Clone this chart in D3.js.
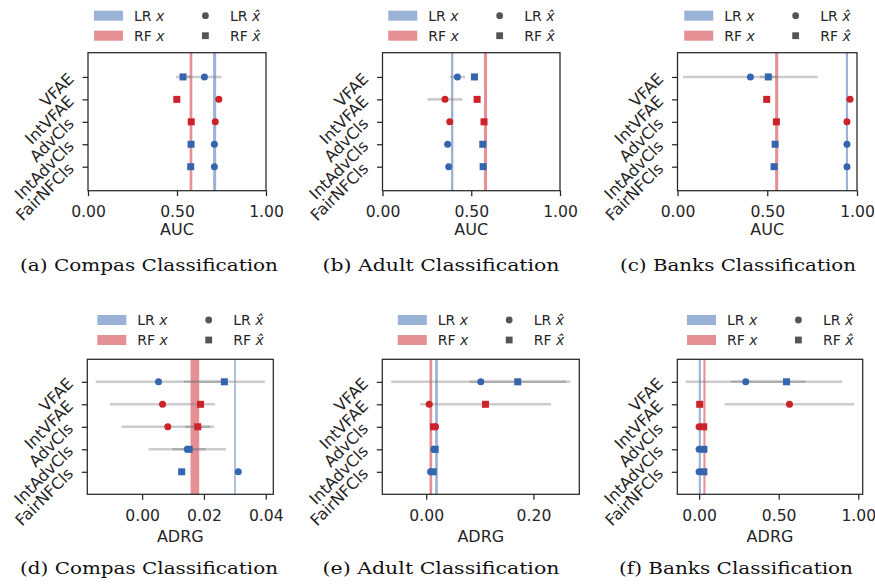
<!DOCTYPE html>
<html>
<head>
<meta charset="utf-8">
<script src="https://cdn.jsdelivr.net/npm/d3@7"></script>
<style>
  body { margin: 0; background: #fff; }
  svg { display: block; }
</style>
</head>
<body>
<svg id="fig" width="875" height="588"></svg>
<script>
// ---- data ----
const methods = ['VFAE', 'IntVFAE', 'AdvCls', 'IntAdvCls', 'FairNFCls'];

// (a) Compas AUC
const compasAucLR = [0.654, 0.735, 0.715, 0.71, 0.71];
const compasAucLRErr = [0.097, 0, 0, 0, 0];
const compasAucRF = [0.534, 0.499, 0.58, 0.579, 0.577];
const compasAucRFErr = [0.04, 0, 0, 0, 0];
const compasAucLRx = [0.703, 0.72];
const compasAucRFx = [0.571, 0.586];

// (b) Adult AUC
const adultAucLR = [0.422, 0.352, 0.379, 0.367, 0.373];
const adultAucLRErr = [0.044, 0.098, 0, 0, 0];
const adultAucRF = [0.518, 0.533, 0.572, 0.565, 0.567];
const adultAucRFErr = [0, 0, 0, 0, 0];
const adultAucLRx = [0.386, 0.399];
const adultAucRFx = [0.572, 0.589];

// (c) Banks AUC
const banksAucLR = [0.406, 0.961, 0.944, 0.944, 0.944];
const banksAucLRErr = [0.375, 0, 0, 0, 0];
const banksAucRF = [0.506, 0.497, 0.551, 0.544, 0.538];
const banksAucRFErr = [0.047, 0, 0, 0, 0];
const banksAucLRx = [0.938, 0.95];
const banksAucRFx = [0.544, 0.561];

// (d) Compas ADRG
const compasAdrgLR = [0.0053, 0.0066, 0.0083, 0.0146, 0.0311];
const compasAdrgLRErr = [0.0203, 0.017, 0.015, 0.0125, 0];
const compasAdrgRF = [0.0266, 0.0189, 0.018, 0.0152, 0.0128];
const compasAdrgRFErr = [0.0131, 0.001, 0.004, 0.0054, 0];
const compasAdrgLRx = [0.0298, 0.0303];
const compasAdrgRFx = [0.01566, 0.01847];

// (e) Adult ADRG
const adultAdrgLR = [0.1018, 0.0056, 0.0174, 0.0143, 0.008];
const adultAdrgLRErr = [0.167, 0.005, 0, 0, 0];
const adultAdrgRF = [0.1707, 0.1105, 0.0137, 0.0168, 0.013];
const adultAdrgRFErr = [0.09, 0.1225, 0, 0, 0];
const adultAdrgLRx = [0.0167, 0.0217];
const adultAdrgRFx = [0.0061, 0.0112];

// (f) Banks ADRG
const banksAdrgLR = [0.293, 0.568, 0.0, 0.0, 0.0];
const banksAdrgLRErr = [0.377, 0.407, 0, 0, 0];
const banksAdrgRF = [0.549, 0.004, 0.029, 0.03, 0.03];
const banksAdrgRFErr = [0.35, 0, 0, 0, 0];
const banksAdrgLRx = [-0.002, 0.011];
const banksAdrgRFx = [0.027, 0.04];

const aucTicks = [0, 0.5, 1];
const compasAdrgTicks = [0, 0.02, 0.04];
const adultAdrgTicks = [0, 0.2];
const banksAdrgTicks = [0, 0.5, 1];

const captions = ['(a) Compas Classification', '(b) Adult Classification', '(c) Banks Classification',
                  '(d) Compas Classification', '(e) Adult Classification', '(f) Banks Classification'];

// ---- style ----
const blue = '#3565ae', red = '#cc2229', ink = '#262626';
const rowColor = [blue, red, red, blue, blue];
const font = 'DejaVu Sans';

const panels = [
  { lr: compasAucLR, lrErr: compasAucLRErr, rf: compasAucRF, rfErr: compasAucRFErr, lrX: compasAucLRx, rfX: compasAucRFx,
    ticks: aucTicks, domain: [0, 1], label: 'AUC', row: 0, left: 88, right: 266, capX: 149, capW: 258 },
  { lr: adultAucLR, lrErr: adultAucLRErr, rf: adultAucRF, rfErr: adultAucRFErr, lrX: adultAucLRx, rfX: adultAucRFx,
    ticks: aucTicks, domain: [0, 1], label: 'AUC', row: 0, left: 382.5, right: 560, capX: 441, capW: 237 },
  { lr: banksAucLR, lrErr: banksAucLRErr, rf: banksAucRF, rfErr: banksAucRFErr, lrX: banksAucLRx, rfX: banksAucRFx,
    ticks: aucTicks, domain: [0, 1], label: 'AUC', row: 0, left: 677.5, right: 857, capX: 738, capW: 236 },
  { lr: compasAdrgLR, lrErr: compasAdrgLRErr, rf: compasAdrgRF, rfErr: compasAdrgRFErr, lrX: compasAdrgLRx, rfX: compasAdrgRFx,
    ticks: compasAdrgTicks, domain: null, label: 'ADRG', row: 1, left: 87.3, right: 273.3, capX: 149, capW: 258 },
  { lr: adultAdrgLR, lrErr: adultAdrgLRErr, rf: adultAdrgRF, rfErr: adultAdrgRFErr, lrX: adultAdrgLRx, rfX: adultAdrgRFx,
    ticks: adultAdrgTicks, domain: null, label: 'ADRG', row: 1, left: 382.3, right: 579.3, capX: 441, capW: 237 },
  { lr: banksAdrgLR, lrErr: banksAdrgLRErr, rf: banksAdrgRF, rfErr: banksAdrgRFErr, lrX: banksAdrgLRx, rfX: banksAdrgRFx,
    ticks: banksAdrgTicks, domain: null, label: 'ADRG', row: 1, left: 677.3, right: 862.7, capX: 736, capW: 234 }
];
panels.forEach((p, k) => p.caption = captions[k]);

const rows = [
  { top: 52.7, bottom: 190.7, yDomain: [-1.08, 5.07], legendY: 37, titleDy: 44.5, capY: 271 },
  { top: 359.3, bottom: 494.3, yDomain: [-1, 5], legendY: 39.3, titleDy: 48, capY: 574 }
];

// matplotlib-like auto limits: data extent + 5% margin
function autoDomain(p) {
  const vals = [...p.lrX, ...p.rfX];
  p.lr.forEach((v, i) => vals.push(v - p.lrErr[i], v + p.lrErr[i]));
  p.rf.forEach((v, i) => vals.push(v - p.rfErr[i], v + p.rfErr[i]));
  const [lo, hi] = d3.extent(vals);
  const m = (hi - lo) * 0.05;
  return [lo - m, hi + m];
}

const svg = d3.select('#fig');

panels.forEach(p => {
  const r = rows[p.row];
  const x = d3.scaleLinear().domain(p.domain || autoDomain(p)).range([p.left, p.right]);
  const y = d3.scaleLinear().domain(r.yDomain).range([r.top, r.bottom]);
  const g = svg.append('g');

  // baseline (x) bands
  [[p.lrX, blue], [p.rfX, red]].forEach(([b, c]) => {
    const w = Math.max(x(b[1]) - x(b[0]), 1.6);
    g.append('rect')
      .attr('x', (x(b[0]) + x(b[1])) / 2 - w / 2)
      .attr('y', r.top)
      .attr('width', w)
      .attr('height', r.bottom - r.top)
      .attr('fill', c)
      .attr('fill-opacity', 0.5);
  });

  // error bars
  const bars = [];
  p.lr.forEach((v, i) => { if (p.lrErr[i] > 0) bars.push({ lo: v - p.lrErr[i], hi: v + p.lrErr[i], i }); });
  p.rf.forEach((v, i) => { if (p.rfErr[i] > 0) bars.push({ lo: v - p.rfErr[i], hi: v + p.rfErr[i], i }); });
  g.selectAll('line.err').data(bars).enter().append('line')
    .attr('class', 'err')
    .attr('x1', d => x(d.lo)).attr('x2', d => x(d.hi))
    .attr('y1', d => y(d.i)).attr('y2', d => y(d.i))
    .attr('stroke', '#808080').attr('stroke-opacity', 0.4).attr('stroke-width', 2.6);

  // markers: LR x-hat circles, RF x-hat squares
  g.selectAll('circle.lr').data(p.lr).enter().append('circle')
    .attr('class', 'lr')
    .attr('cx', d => x(d)).attr('cy', (d, i) => y(i)).attr('r', 3.5)
    .attr('fill', (d, i) => rowColor[i]);
  const s = 7;
  g.selectAll('rect.rf').data(p.rf).enter().append('rect')
    .attr('class', 'rf')
    .attr('x', d => x(d) - s / 2).attr('y', (d, i) => y(i) - s / 2)
    .attr('width', s).attr('height', s)
    .attr('fill', (d, i) => rowColor[i]);

  // frame
  g.append('rect')
    .attr('x', p.left).attr('y', r.top)
    .attr('width', p.right - p.left).attr('height', r.bottom - r.top)
    .attr('fill', 'none').attr('stroke', ink).attr('stroke-width', 1.25);

  // x axis
  const gx = g.append('g')
    .attr('transform', `translate(0,${r.bottom})`)
    .call(d3.axisBottom(x).tickValues(p.ticks).tickFormat(d3.format('.2f')).tickSize(5.5).tickPadding(10));
  gx.select('.domain').remove();
  gx.attr('font-family', font).attr('font-size', 15.6);
  gx.selectAll('line').attr('stroke', ink).attr('stroke-width', 1.25);
  gx.selectAll('text').attr('fill', ink);

  // y axis with rotated method names
  const gy = g.append('g')
    .attr('transform', `translate(${p.left},0)`)
    .call(d3.axisLeft(y).tickValues(d3.range(methods.length)).tickFormat(i => methods[i]).tickSize(5.5));
  gy.select('.domain').remove();
  gy.attr('font-family', font).attr('font-size', 16);
  gy.selectAll('line').attr('stroke', ink).attr('stroke-width', 1.25);
  gy.selectAll('text')
    .attr('fill', ink)
    .attr('x', 0).attr('dy', null)
    .attr('dominant-baseline', 'central')
    .attr('transform', 'translate(-17,-1.5) rotate(-45)');

  // axis title
  g.append('text')
    .attr('x', (p.left + p.right) / 2).attr('y', r.bottom + r.titleDy)
    .attr('text-anchor', 'middle')
    .attr('font-family', font).attr('font-size', 16).attr('fill', ink)
    .text(p.label);

  // legend
  const cx = (p.left + p.right) / 2;
  const lg = g.append('g')
    .attr('transform', `translate(${cx - 83},${r.top - r.legendY})`)
    .attr('font-family', font).attr('font-size', 14).attr('fill', ink);
  [[blue, 'LR'], [red, 'RF']].forEach(([c, name], k) => {
    const yy = k * 20;
    lg.append('rect').attr('x', 0).attr('y', yy - 5).attr('width', 29).attr('height', 10)
      .attr('fill', c).attr('fill-opacity', 0.5);
    const t = lg.append('text').attr('x', 40).attr('y', yy).attr('dominant-baseline', 'central');
    t.append('tspan').text(name + ' ');
    t.append('tspan').attr('font-style', 'italic').text('x');
  });
  lg.append('circle').attr('cx', 111.4).attr('cy', 0).attr('r', 3.4).attr('fill', '#555');
  lg.append('rect').attr('x', 111.4 - 3.4).attr('y', 20 - 3.4).attr('width', 6.8).attr('height', 6.8).attr('fill', '#555');
  ['LR', 'RF'].forEach((name, k) => {
    const t = lg.append('text').attr('x', 136).attr('y', k * 20).attr('dominant-baseline', 'central');
    t.append('tspan').text(name + ' ');
    t.append('tspan').attr('font-style', 'italic').text('x\u0302');
  });

  // caption
  svg.append('text')
    .attr('x', p.capX).attr('y', r.capY)
    .attr('text-anchor', 'middle')
    .attr('font-family', 'DejaVu Serif').attr('font-size', 16).attr('fill', '#111')
    .attr('textLength', p.capW).attr('lengthAdjust', 'spacingAndGlyphs')
    .text(p.caption);
});
</script>
</body>
</html>
